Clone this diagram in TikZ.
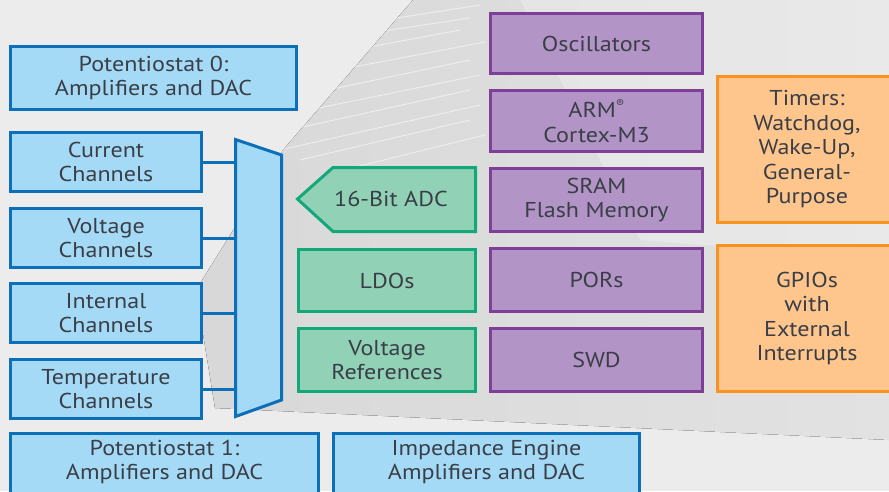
\documentclass[tikz,border=0pt]{standalone}
\usepackage{fontspec}
\setmainfont{PT Sans}[FakeStretch=1.12]
\begin{document}
\begin{tikzpicture}[x=1pt,y=-1pt,
  every node/.style={font=\fontsize{21.5}{24.5}\selectfont, text=txt, align=center, inner sep=0pt},
  bluebox/.style={draw=blueln, fill=bluefl, line width=3pt},
  greenbox/.style={draw=greenln, fill=greenfl, line width=3pt},
  purplebox/.style={draw=purpleln, fill=purplefl, line width=3pt},
  orangebox/.style={draw=orangeln, fill=orangefl, line width=3pt},
  wire/.style={draw=blueln, line width=3pt},
  streak/.style={white, line width=1pt, opacity=0.5}]
\definecolor{txt}{HTML}{3A3E47}
\definecolor{bluefl}{HTML}{A4DAF6}
\definecolor{blueln}{HTML}{0C6FB8}
\definecolor{greenfl}{HTML}{91D1B6}
\definecolor{greenln}{HTML}{12A87A}
\definecolor{purplefl}{HTML}{B394C6}
\definecolor{purpleln}{HTML}{7D3F98}
\definecolor{orangefl}{HTML}{FEC68C}
\definecolor{orangeln}{HTML}{F7931E}
\definecolor{bg}{HTML}{ECECEC}
\definecolor{shadeA}{HTML}{D8D8D8}
\definecolor{shadeB}{HTML}{E2E2E2}
\useasboundingbox (0,0) rectangle (889,491);
\clip (0,0) rectangle (889,491);
% background
\fill[bg] (0,0) rectangle (889,491);
\fill[left color=shadeA, right color=shadeB] (413,0) -- (889,0) -- (889,440) -- (215,408) -- (196,290) -- (283,150) -- cycle;
\fill[white, opacity=0.25] (520,0) -- (889,0) -- (889,260) -- (640,240) -- cycle;
\begin{scope}
\clip (413,0) -- (889,0) -- (889,440) -- (215,408) -- (196,290) -- (283,150) -- cycle;
\foreach \a/\b/\l/\d in {480/5/160/30, 470/18/180/45, 460/30/170/62, 485/42/200/80, 470/60/190/100, 480/75/210/118, 470/90/190/132, 480/105/200/150, 470/120/170/160, 485/135/150/172}
  \draw[streak] (\a,\b) -- (\a-\l,\d);
\end{scope}
% left blue column
\node[bluebox, minimum width=286, minimum height=63] (p0) at (153.5,78) {Potentiostat 0:\\Amplifiers and DAC};
\node[bluebox, minimum width=191, minimum height=59] (cur) at (106,162) {Current\\Channels};
\node[bluebox, minimum width=191, minimum height=59] (vol) at (106,238) {Voltage\\Channels};
\node[bluebox, minimum width=191, minimum height=59] (int) at (106,313) {Internal\\Channels};
\node[bluebox, minimum width=191, minimum height=59] (tmp) at (106,389) {Temperature\\Channels};
% mux
\coordinate (muxL) at (235.5,0);
\draw[bluebox] (235.5,139.5) -- (281.5,155) -- (281.5,400) -- (235.5,416.5) -- cycle;
\foreach \n in {cur,vol,int,tmp} \draw[wire] (\n.east) -- (\n.east -| muxL);
% bottom blue
\node[bluebox, minimum width=308, minimum height=70] (p1) at (164.5,468) {};
\node (p1t) at (164.5,462) {Potentiostat 1:\\Amplifiers and DAC};
\node[bluebox, minimum width=306, minimum height=70] (imp) at (486.5,468) {};
\node (impt) at (486.5,462) {Impedance Engine\\Amplifiers and DAC};
% green
\draw[greenbox] (297.5,199) -- (333,167.5) -- (475.5,167.5) -- (475.5,231.5) -- (333,231.5) -- cycle;
\node (adc) at (391,199) {16-Bit ADC};
\node[greenbox, minimum width=177, minimum height=62] (ldo) at (387,280.5) {LDOs};
\node[greenbox, minimum width=177, minimum height=63] (vref) at (387,360) {Voltage\\References};
% purple
\node[purplebox, minimum width=212, minimum height=60] (osc) at (596.5,43.5) {Oscillators};
\node[purplebox, minimum width=212, minimum height=61] (arm) at (596.5,121) {ARM\raisebox{0.5em}{\fontsize{11}{11}\selectfont ®}\\Cortex-M3};
\node[purplebox, minimum width=212, minimum height=63] (sram) at (596.5,200) {SRAM\\Flash Memory};
\node[purplebox, minimum width=212, minimum height=63] (por) at (596.5,280) {PORs};
\node[purplebox, minimum width=212, minimum height=63] (swd) at (596.5,360) {SWD};
% orange
\node[orangebox, minimum width=181, minimum height=146] (tim) at (808,149.5) {};
\node (timt) at (807,149.5) {Timers:\\Watchdog,\\Wake-Up,\\General-\\Purpose};
\node[orangebox, minimum width=181, minimum height=146] (gpio) at (808,318.5) {};
\node (gpiot) at (807,318.5) {GPIOs\\with\\External\\Interrupts};
\end{tikzpicture}
\end{document}
